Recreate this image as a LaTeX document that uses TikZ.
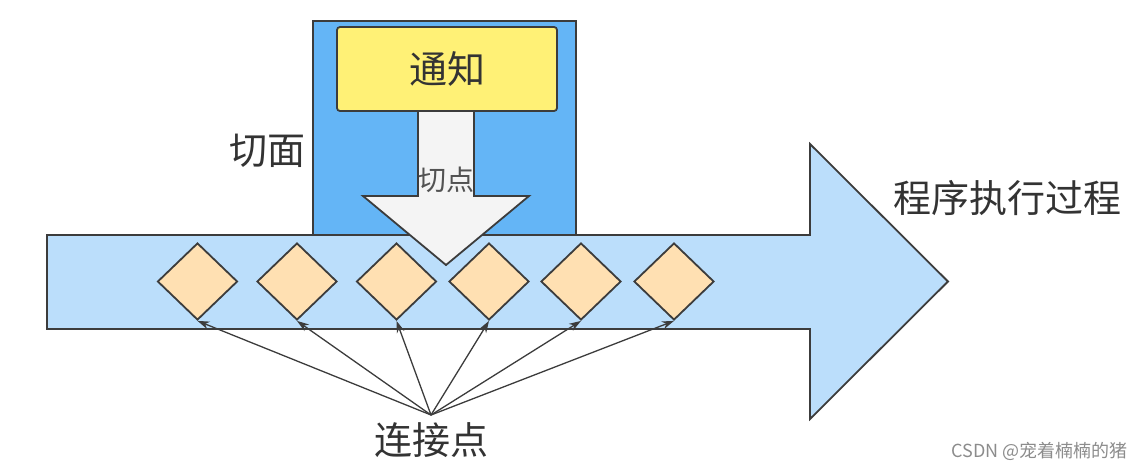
\documentclass[tikz,border=0pt]{standalone}
\usepackage{fontspec}
\setmainfont{Noto Sans CJK SC}
\usetikzlibrary{shapes.geometric,arrows.meta}
\definecolor{flowblue}{RGB}{187,222,251}
\definecolor{aspectblue}{RGB}{100,181,246}
\definecolor{adviceyellow}{RGB}{255,241,118}
\definecolor{jpfill}{RGB}{255,224,178}
\definecolor{pcfill}{RGB}{244,244,244}
\definecolor{edge}{RGB}{60,60,60}
\definecolor{txt}{RGB}{51,51,51}
\tikzset{
  outline/.style={draw=edge, line width=1.8pt, line join=miter},
  jp/.style={diamond, outline, fill=jpfill, inner sep=0pt, minimum width=80pt, minimum height=77pt},
  lbl/.style={text=txt, font=\fontsize{38}{40}\selectfont, inner sep=0pt},
  ptr/.style={draw=edge, line width=1.3pt, -{Stealth[length=12pt,width=8pt]}}
}
\begin{document}
\begin{tikzpicture}[x=1pt,y=-1pt]
\useasboundingbox (0,0) rectangle (1144,466);
% aspect box
\node[outline, fill=aspectblue, minimum width=263pt, minimum height=214pt, inner sep=0pt] (aspect) at (444.5,128) {};
% program flow arrow
\draw[outline, fill=flowblue] (47,235) -- (810,235) -- (810,144) -- (948,281.5) -- (810,419) -- (810,329) -- (47,329) -- cycle;
% advice
\node[outline, fill=adviceyellow, rounded corners=3pt, minimum width=220pt, minimum height=84pt, inner sep=0pt, lbl] (advice) at (447,69) {通知};
% pointcut arrow
\draw[outline, fill=pcfill] (418,111) -- (474,111) -- (474,196) -- (529,196) -- (446,265) -- (363,196) -- (418,196) -- cycle;
\node[text=txt!85, font=\fontsize{28}{30}\selectfont, inner sep=0pt] (pc) at (446,180) {切点};
% join points
\node[jp] (d1) at (197.5,281.5) {};
\node[jp] (d2) at (297,281.5) {};
\node[jp] (d3) at (396.5,281.5) {};
\node[jp] (d4) at (489,281.5) {};
\node[jp] (d5) at (581,281.5) {};
\node[jp] (d6) at (674,281.5) {};
% labels
\node[lbl] (aspectlbl) at (267,151) {切面};
\node[lbl] (flowlbl) at (1007,198) {程序执行过程};
\node[lbl] (jplbl) at (431,440) {连接点};
\coordinate (src) at (431,415);
\foreach \d in {d1,d2,d3,d4,d5,d6} { \draw[ptr] (src) -- (\d.south); }
% watermark
\node[text=black!45, font=\fontsize{18}{20}\selectfont, inner sep=0pt, anchor=east] (wm) at (1128,451) {CSDN @宠着楠楠的猪};
\end{tikzpicture}
\end{document}
